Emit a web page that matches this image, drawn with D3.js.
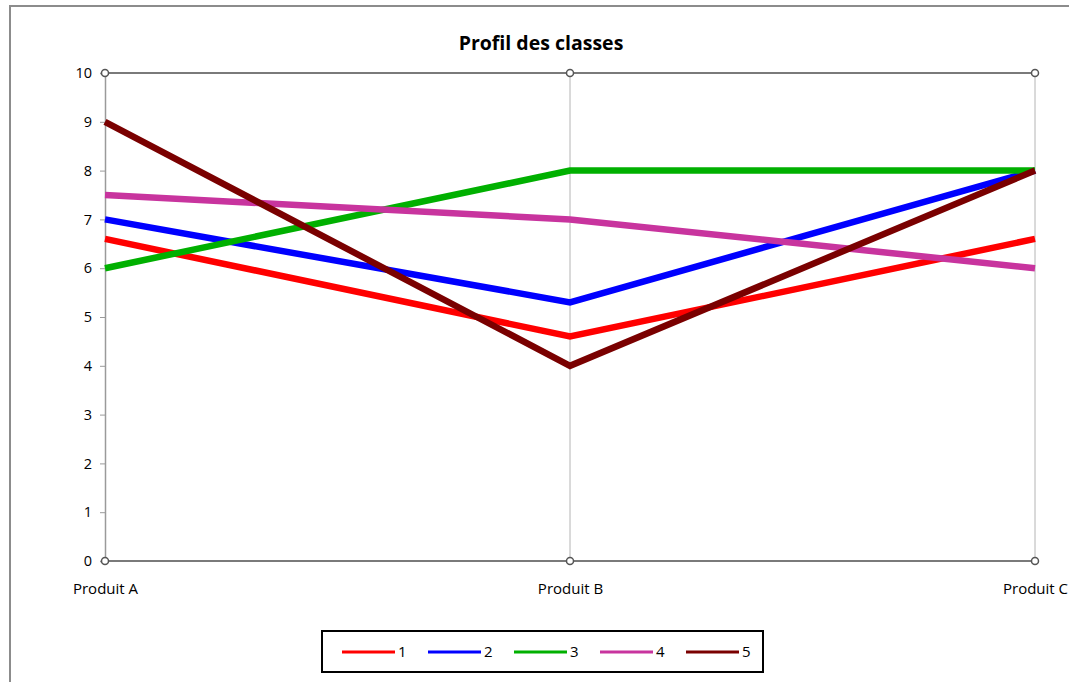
<!DOCTYPE html>
<html>
<head>
<meta charset="utf-8">
<script src="https://cdn.jsdelivr.net/npm/d3@7"></script>
<style>
  body { margin: 0; background: #fff; }
  svg { display: block; font-family: "Open Sans", "Noto Sans", sans-serif; }
</style>
</head>
<body>
<div id="chart"></div>
<script>
var categories = ["Produit A", "Produit B", "Produit C"];
var seriesNames = ["1", "2", "3", "4", "5"];
var serie1 = [6.6, 4.6, 6.6];
var serie2 = [7.0, 5.3, 8.0];
var serie3 = [6.0, 8.0, 8.0];
var serie4 = [7.5, 7.0, 6.0];
var serie5 = [9.0, 4.0, 8.0];
var yTicks = [0, 1, 2, 3, 4, 5, 6, 7, 8, 9, 10];
var colors = ["#ff0000", "#0000ff", "#00b000", "#c8349e", "#7a0000"];

var allSeries = [serie1, serie2, serie3, serie4, serie5];

var W = 1069, H = 682;
var margin = {top: 73, left: 105, right: 34, bottom: 121};
var width = W - margin.left - margin.right,
    height = H - margin.top - margin.bottom;

var svg = d3.select("#chart").append("svg")
  .attr("width", W)
  .attr("height", H);

// outer frame
svg.append("rect")
  .attr("x", 10).attr("y", 6)
  .attr("width", W).attr("height", H)
  .attr("fill", "none")
  .attr("stroke", "#8c8c8c")
  .attr("stroke-width", 2);

svg.append("text")
  .attr("x", 541).attr("y", 50)
  .attr("text-anchor", "middle")
  .attr("font-size", "19.5px")
  .attr("font-weight", "bold")
  .attr("fill", "#000")
  .text("Profil des classes");

var g = svg.append("g")
  .attr("transform", "translate(" + margin.left + "," + margin.top + ")");

var x = d3.scalePoint().domain(categories).range([0, width]);
var y = d3.scaleLinear().domain([0, 10]).range([height, 0]);

// vertical grid lines at categories
g.selectAll(".vgrid")
  .data(categories.slice(1))
  .enter().append("line")
    .attr("x1", function(d) { return x(d); })
    .attr("x2", function(d) { return x(d); })
    .attr("y1", 0).attr("y2", height)
    .attr("stroke", "#b4b4b4")
    .attr("stroke-width", 1);

// y axis
var yAxis = d3.axisLeft(y).tickValues(yTicks).tickSize(5).tickPadding(8);
g.append("g")
  .call(yAxis)
  .call(function(s) {
    s.select(".domain").attr("stroke", "#9a9a9a").attr("stroke-width", 1.5);
    s.selectAll(".tick line").attr("stroke", "#9a9a9a");
    s.selectAll(".tick text").attr("font-size", "14.5px").attr("fill", "#000")
      .attr("font-family", "'Open Sans', sans-serif");
  });

// top and bottom horizontal lines
g.selectAll(".hline")
  .data([0, 10])
  .enter().append("line")
    .attr("x1", 0).attr("x2", width)
    .attr("y1", function(d) { return y(d); })
    .attr("y2", function(d) { return y(d); })
    .attr("stroke", "#7a7a7a")
    .attr("stroke-width", 2);

// x axis labels
var xAxis = d3.axisBottom(x).tickSize(0).tickPadding(22);
g.append("g")
  .attr("transform", "translate(0," + height + ")")
  .call(xAxis)
  .call(function(s) {
    s.select(".domain").remove();
    s.selectAll(".tick text").attr("font-size", "15px").attr("fill", "#000")
      .attr("font-family", "'Open Sans', sans-serif");
  });

// lines
var line = d3.line()
  .x(function(d, i) { return x(categories[i]); })
  .y(function(d) { return y(d); });

g.selectAll(".serie")
  .data(allSeries)
  .enter().append("path")
    .attr("class", "serie")
    .attr("d", line)
    .attr("fill", "none")
    .attr("stroke", function(d, i) { return colors[i]; })
    .attr("stroke-width", 6.5)
    .attr("stroke-linejoin", "miter");

// corner markers
var corners = [];
categories.forEach(function(c) { corners.push([c, 10]); corners.push([c, 0]); });
g.selectAll(".corner")
  .data(corners)
  .enter().append("circle")
    .attr("cx", function(d) { return x(d[0]); })
    .attr("cy", function(d) { return y(d[1]); })
    .attr("r", 3.5)
    .attr("fill", "#fff")
    .attr("stroke", "#555")
    .attr("stroke-width", 1.5);

// legend
var legend = svg.append("g").attr("transform", "translate(322,631)");
legend.append("rect")
  .attr("width", 441).attr("height", 41)
  .attr("fill", "#fff")
  .attr("stroke", "#000")
  .attr("stroke-width", 2);

var items = legend.selectAll(".legend")
  .data(seriesNames)
  .enter().append("g")
    .attr("transform", function(d, i) { return "translate(" + (20 + i * 86) + ",21)"; });

items.append("line")
  .attr("x1", 0).attr("x2", 53)
  .attr("stroke", function(d, i) { return colors[i]; })
  .attr("stroke-width", 3);

items.append("text")
  .attr("x", 56)
  .attr("dy", "0.35em")
  .attr("font-size", "15px")
  .attr("fill", "#000")
  .text(function(d) { return d; });
</script>
</body>
</html>
